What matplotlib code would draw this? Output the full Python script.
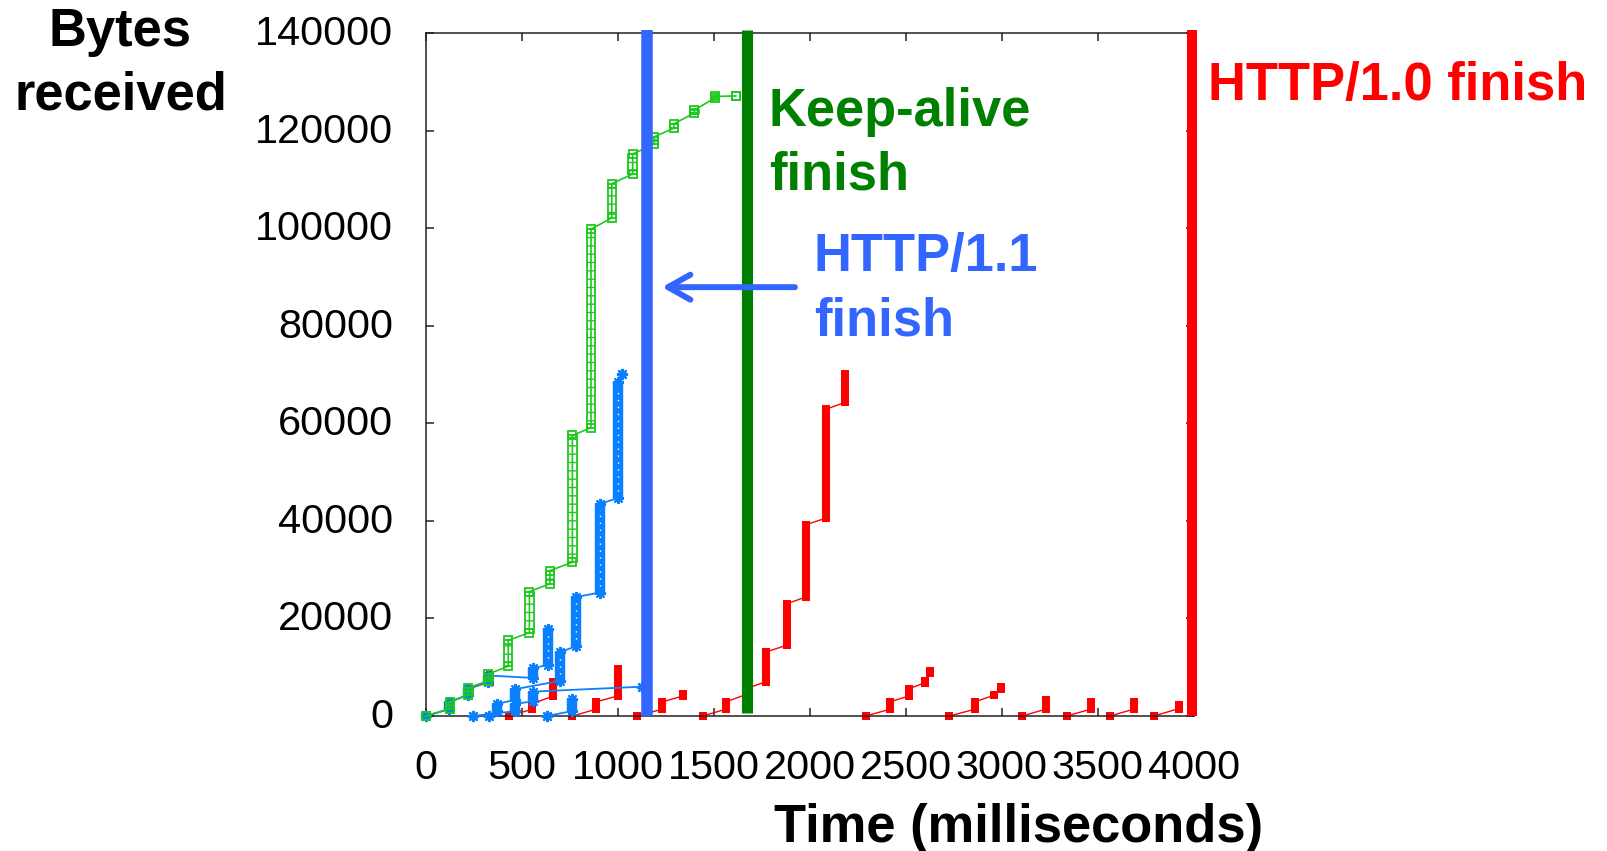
import matplotlib.pyplot as plt
from matplotlib.transforms import ScaledTranslation

plt.rcParams['font.family'] = ['Liberation Sans', 'DejaVu Sans']

W, H = 1608, 851

# each column of packets: (time ms, bytes at first packet, bytes at last packet)
keepalive = [(0, 0, 0), (126, 1500, 2900), (222, 4400, 5800), (326, 7200, 8600),
             (430, 10200, 15500), (540, 17100, 25500), (647, 27100, 29800),
             (764, 31500, 57500), (861, 59100, 99800), (969, 102100, 109100),
             (1078, 111100, 115200), (1189, 117200, 118700), (1293, 120500, 121400),
             (1399, 123600, 124200), (1507, 126700, 127000), (1616, 127100, 127100)]

# HTTP/1.1, one list per connection
http11 = [
    [(0, 0, 0), (123, 1400, 2900), (221, 4300, 5600), (326, 7000, 8300),
     (559, 7800, 9800), (637, 10500, 17900)],
    [(330, 0, 0), (371, 1000, 2500), (466, 3300, 5500), (700, 7200, 13100),
     (783, 14300, 24400), (908, 25300, 43500), (1004, 44700, 68500), (1025, 70100, 70100)],
    [(245, 0, 0), (466, 1000, 2500), (559, 3000, 5000), (1125, 6000, 6000)],
    [(630, 0, 0), (762, 1000, 3500)],
]

# HTTP/1.0, one list per connection
http10 = [
    [(0, 0, 0), (128, 1500, 2900), (226, 4400, 5600), (335, 7000, 8400)],
    [(434, 0, 0), (556, 1400, 2500), (663, 4100, 7000)],
    [(764, 0, 0), (888, 1400, 2900), (999, 4100, 9700)],
    [(1098, 0, 0), (1233, 1400, 2900), (1339, 4100, 4500)],
    [(1442, 0, 0), (1564, 1400, 2900), (1668, 4400, 5600), (1771, 7000, 13100),
     (1880, 14500, 23000), (1980, 24400, 39200), (2087, 40600, 62900), (2184, 64300, 70100)],
    [(2293, 0, 0), (2418, 1400, 2900), (2517, 4100, 5600), (2600, 6800, 7200), (2626, 8800, 9200)],
    [(2728, 0, 0), (2861, 1400, 2900), (2962, 4300, 4300), (2996, 5600, 6000)],
    [(3106, 0, 0), (3230, 1400, 3200)],
    [(3339, 0, 0), (3464, 1400, 2900)],
    [(3564, 0, 0), (3687, 1400, 2900)],
    [(3793, 0, 0), (3921, 1500, 2300)],
]

finish_http11 = 1155
finish_keepalive = 1673
finish_http10 = 3990

xticks = list(range(0, 4001, 500))
yticks = list(range(0, 140001, 20000))

RED = '#ff0000'
BLUE = '#0a80ff'
GREEN = '#1ec81e'


def points(cols):
    t = [c[0] for c in cols for _ in (0, 1)]
    b = [v for c in cols for v in c[1:]]
    return t, b


fig = plt.figure(figsize=(W / 100, H / 100), dpi=100)
ax = fig.add_axes([425.7 / W, 135 / H, 768 / W, 683 / H])

# HTTP/1.0 - filled squares
for conn in http10:
    t, b = points(conn)
    ax.plot(t, b, color=RED, lw=1, zorder=2, clip_on=False)
    tall = [c for c in conn if c[2] > c[1]]
    ax.vlines([c[0] for c in tall], [c[1] for c in tall], [c[2] for c in tall],
              color=RED, lw=5.8, zorder=2)
    ax.plot(t, b, ls='none', marker='s', ms=5.8, mfc=RED, mew=0, zorder=2, clip_on=False)

# HTTP/1.1 - asterisks
for conn in http11:
    t, b = points(conn)
    ax.plot(t, b, color=BLUE, lw=1.3, zorder=3, clip_on=False)
    tall = [c for c in conn if c[2] > c[1]]
    ax.vlines([c[0] for c in tall], [c[1] for c in tall], [c[2] for c in tall],
              color=BLUE, lw=7.5, zorder=3)
    ax.vlines([c[0] for c in tall], [c[1] for c in tall], [c[2] for c in tall],
              color='white', lw=1.0, ls=(0, (1, 4)), zorder=3)
    ax.plot(t, b, ls='none', marker=(8, 2, 0), ms=8, mec=BLUE, mew=1.5, zorder=3, clip_on=False)

# keep-alive - open squares
t, b = points(keepalive)
tall = [c for c in keepalive if c[2] > c[1]]
ax.bar([c[0] for c in tall], [c[2] - c[1] for c in tall], bottom=[c[1] for c in tall],
       width=44, fill=False, edgecolor=GREEN, hatch='--', lw=1.3, zorder=4)
ax.plot(t, b, color=GREEN, lw=1.2, zorder=4, clip_on=False)
ax.plot(t, b, ls='none', marker='s', ms=6, mfc='none', mec=GREEN, mew=1.3, zorder=4, clip_on=False)

# finish markers
ax.plot([finish_http11] * 2, [0, 140600], color='#3366ff', lw=8.3,
        solid_capstyle='butt', clip_on=False, zorder=5)
ax.plot([finish_keepalive] * 2, [600, 140700], color='#008000', lw=8,
        solid_capstyle='butt', clip_on=False, zorder=5)
ax.plot([finish_http10] * 2, [0, 140700], color=RED, lw=7.2,
        solid_capstyle='butt', clip_on=False, zorder=5)

ax.annotate('', xy=(1231, 87900), xytext=(1923, 87900),
            arrowprops=dict(arrowstyle='->,head_length=0.8,head_width=0.45', color='#3366ff',
                            lw=4.3, mutation_scale=20, shrinkA=0, shrinkB=0), zorder=6)

ax.set_xlim(0, 4000)
ax.set_ylim(0, 140000)
ax.set_xticks(xticks)
ax.set_yticks(yticks)
ax.set_xticklabels([str(v) for v in xticks])
ax.set_yticklabels([str(v) for v in yticks])
ax.tick_params(direction='in', length=5.8, width=1.1, top=True, right=True,
               labelsize=29.8, colors='#222222', labelcolor='black')
ax.tick_params(axis='y', pad=23.5)
ax.tick_params(axis='x', pad=23.5)
for s in ax.spines.values():
    s.set_linewidth(1.1)
    s.set_color('#222222')

# y labels sit a little above their ticks in the original
up = ScaledTranslation(0, 3 / 100, fig.dpi_scale_trans)
for lbl in ax.get_yticklabels():
    lbl.set_transform(lbl.get_transform() + up)

# va='baseline' anchors the last line of multi-line text
bold = dict(fontsize=37.8, fontweight='bold', va='baseline', linespacing=1.37)
fig.text(120.5 / W, 1 - 110 / H, 'Bytes\nreceived', ha='center', **bold)
fig.text(1019 / W, 1 - 841.7 / H, 'Time (milliseconds)', ha='center', **bold)
fig.text(769 / W, 1 - 190 / H, 'Keep-alive\nfinish', ha='left', color='#008000', **bold)
fig.text(814 / W, 1 - 335 / H, 'HTTP/1.1\nfinish', ha='left', color='#3366ff', **bold)
fig.text(1208 / W, 1 - 100 / H, 'HTTP/1.0 finish', ha='left', color=RED, **bold)

fig.savefig('out.png', dpi=100)
